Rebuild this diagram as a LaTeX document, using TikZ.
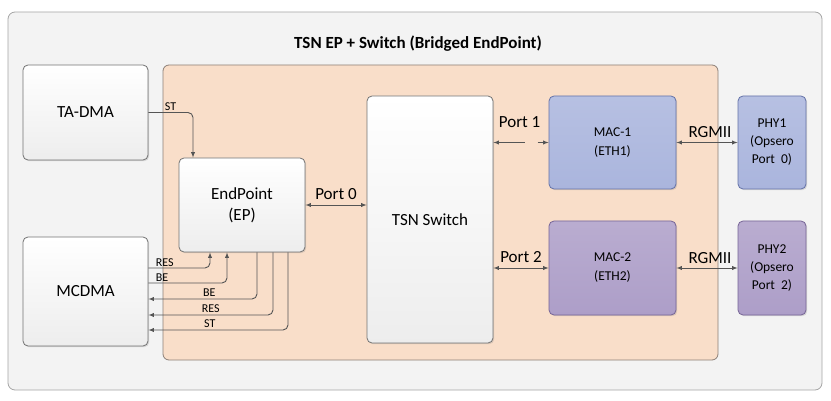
\documentclass[tikz,border=0pt]{standalone}
\usepackage{fontspec}
\setmainfont{Carlito}
\usetikzlibrary{arrows,positioning,shadows}
\definecolor{framecol}{RGB}{243,243,243}
\definecolor{framedraw}{RGB}{165,165,165}
\definecolor{peachcol}{RGB}{249,222,201}
\definecolor{peachdraw}{RGB}{140,128,120}
\definecolor{boxdraw}{RGB}{115,115,115}
\definecolor{maconecol}{RGB}{170,181,221}
\definecolor{maconedraw}{RGB}{100,114,168}
\definecolor{mactwocol}{RGB}{173,158,200}
\definecolor{mactwodraw}{RGB}{118,100,150}
\definecolor{linecol}{RGB}{85,85,85}
\tikzset{
  block/.style 2 args = {rectangle, rounded corners=5pt, draw=boxdraw, thick,
                    top color=white, bottom color=black!7, align=center,
                    minimum width=#1, minimum height=#2, inner sep=2pt,
                    font=\fontsize{17}{21}\selectfont,
                    drop shadow={opacity=0.25, shadow xshift=1.2pt, shadow yshift=-1.2pt}},
  macblock/.style 2 args = {block={#1}{#2}, draw=maconedraw, top color=maconecol!85,
                    bottom color=maconecol, font=\fontsize{13.5}{19}\selectfont},
  phyblock/.style 2 args = {macblock={#1}{#2}, font=\fontsize{13.5}{18}\selectfont},
  link/.style      = {-latex, line width=0.9pt, draw=linecol, rounded corners=5pt},
  duplex/.style    = {latex-latex, line width=0.9pt, draw=linecol},
  portlab/.style   = {font=\fontsize{17}{19}\selectfont, inner sep=1pt},
  siglab/.style    = {font=\fontsize{12}{12}\selectfont, inner sep=1pt},
}

\begin{document}
\begin{tikzpicture}[x=1pt, y=-1pt]
  \useasboundingbox (0,0) rectangle (831,401);

  % frames
  \node[rectangle, rounded corners=7pt, draw=framedraw, thick, fill=framecol,
        minimum width=814pt, minimum height=378pt, inner sep=0pt] (frame) at (415,201) {};
  \node[font=\bfseries\fontsize{17}{19}\selectfont] (title) at (418,44)
       {TSN EP + Switch (Bridged EndPoint)};
  \node[rectangle, rounded corners=6pt, draw=peachdraw, thick, fill=peachcol,
        minimum width=555pt, minimum height=295pt, inner sep=0pt] (core) at (440.5,212.5) {};

  % blocks
  \node[block={125pt}{95pt}]  (tadma) at (85.5,112.5) {TA-DMA};
  \node[block={125pt}{109pt}] (mcdma) at (85.5,291.5) {MCDMA};
  \node[block={126pt}{94pt}]  (ep)    at (242,205)    {EndPoint\\(EP)};
  \node[block={126pt}{247pt}] (sw)    at (430,219.5)  {TSN Switch};
  \node[macblock={127pt}{93pt}] (mac1) at (612.5,142.5) {MAC-1\\(ETH1)};
  \node[macblock={127pt}{94pt}, draw=mactwodraw, top color=mactwocol!85,
        bottom color=mactwocol] (mac2) at (612.5,268) {MAC-2\\(ETH2)};
  \node[phyblock={68pt}{93pt}] (phy1) at (772,142.5) {PHY1\\(Opsero\\Port~ 0)};
  \node[phyblock={68pt}{94pt}, draw=mactwodraw, top color=mactwocol!85,
        bottom color=mactwocol] (phy2) at (772,268) {PHY2\\(Opsero\\Port~ 2)};

  % switch ports
  \draw[duplex] (ep.east) -- (ep.east -| sw.west)
       node[portlab, midway, above=4pt] (p0lab) {Port 0};
  \coordinate (p1a) at ([xshift=-24pt]mac1.west);
  \coordinate (p1b) at ([xshift=-11pt]mac1.west);
  \draw[link] (p1a) -- (sw.east |- p1a);
  \draw[link] (p1b) -- (mac1.west);
  \node[portlab, above=14pt of p1a, xshift=-5pt] (p1lab) {Port 1};
  \draw[duplex] (sw.east |- mac2.west) -- (mac2.west)
       node[portlab, midway, above=4pt] (p2lab) {Port 2};

  % RGMII
  \foreach \a/\b in {mac1/phy1, mac2/phy2}
    \draw[duplex] (\a.east) -- (\b.west)
         node[portlab, midway, above=3pt, xshift=3pt] {RGMII};

  % DMA channels
  \draw[link] (tadma.east) -| ([xshift=-49pt]ep.north)
       node[siglab, pos=0, anchor=south west, xshift=15pt] {ST};
  \foreach \lbl/\dx/\dy in {RES/-32/23.5, BE/-15/8.5}
    \draw[link] ([yshift=\dy pt]mcdma.east) -| ([xshift=\dx pt]ep.south)
         node[siglab, pos=0, anchor=south west, xshift=6pt] {\lbl};
  \foreach \lbl/\dx/\dy/\p in {BE/15/-7.5/0.28, RES/31/-23.5/0.25, ST/46/-38.5/0.22}
    \draw[link, latex-] ([yshift=\dy pt]mcdma.east) -| ([xshift=\dx pt]ep.south)
         node[siglab, pos=\p, above=1pt] {\lbl};
\end{tikzpicture}
\end{document}
